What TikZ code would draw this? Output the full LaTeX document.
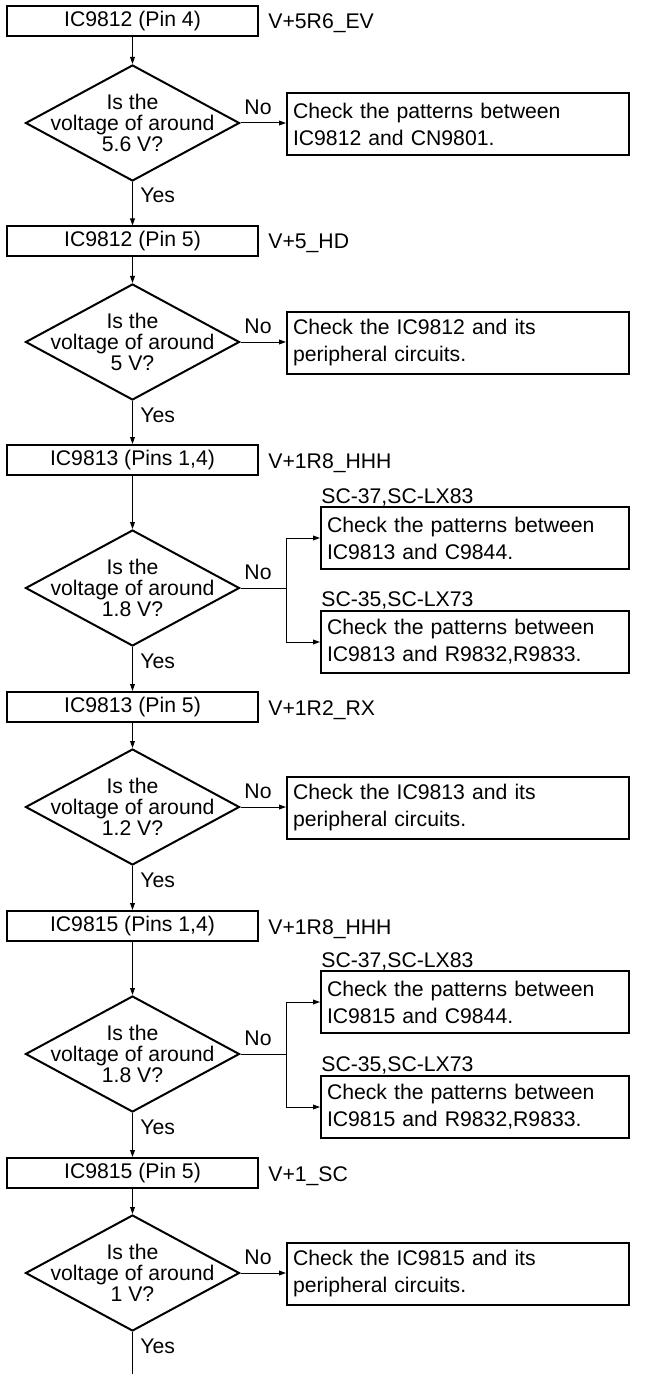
\documentclass[tikz,border=0pt]{standalone}
\usepackage{fontspec}
\setmainfont{Liberation Sans}
\usetikzlibrary{arrows.meta,shapes.geometric}

\begin{document}
\begin{tikzpicture}[x=0.5pt,y=-0.5pt,
  font=\fontsize{10.6}{13.5}\selectfont,
  stage/.style={draw,line width=1pt,minimum width=125.5pt,minimum height=15pt,inner sep=0pt},
  ask/.style={diamond,draw,line width=1pt,minimum width=107pt,minimum height=58pt,inner sep=0pt},
  askline/.style={align=center,inner sep=0pt,font=\fontsize{10.6}{10.5}\selectfont},
  fix/.style={draw,line width=1pt,align=left,text width=165pt,inner sep=3pt,minimum height=31pt},
  fixsplit/.style={fix,text width=148pt},
  note/.style={anchor=base west,inner sep=0pt},
  flow/.style={line width=0.5pt,-{Triangle[length=3.5pt,width=2.4pt]}}]
            \useasboundingbox (0,0) rectangle (662,1374);

            % IC9812 pin 4
            \node[stage] (b1) at (132.5,21.5) {IC9812 (Pin 4)};
            \node[note] (v1) at (268,29) {V+5R6\_EV};
            \node[ask,label={[askline]center:{Is the\\voltage of around\\5.6 V?}}] (d1) at (132.5,123) {};
            \node[fix] (r1) at (458,124) {Check the patterns between\\IC9812 and CN9801.};
            \node (n1) at (258,107) {No};
            \node[note] (y1) at (140,203) {Yes};

            % IC9812 pin 5
            \node[stage] (b2) at (132.5,241.5) {IC9812 (Pin 5)};
            \node[note] (v2) at (268,249) {V+5\_HD};
            \node[ask,label={[askline]center:{Is the\\voltage of around\\5 V?}}] (d2) at (132.5,342) {};
            \node[fix] (r2) at (458,343) {Check the IC9812 and its\\peripheral circuits.};
            \node (n2) at (258,326) {No};
            \node[note] (y2) at (140,422) {Yes};

            % IC9813 pins 1,4
            \node[stage] (b3) at (132.5,460) {IC9813 (Pins 1,4)};
            \node[note] (v3) at (268,468) {V+1R8\_HHH};
            \node[ask,label={[askline]center:{Is the\\voltage of around\\1.8 V?}}] (d3) at (132.5,588) {};
            \node[fixsplit] (r3a) at (475,538) {Check the patterns between\\IC9813 and C9844.};
            \node[fixsplit] (r3b) at (475,642) {Check the patterns between\\IC9813 and R9832,R9833.};
            \node[note] (s3a) at (321,503) {SC-37,SC-LX83};
            \node[note] (s3b) at (321,606) {SC-35,SC-LX73};
            \coordinate (k3) at (286,588);
            \node (n3) at (258,572) {No};
            \node[note] (y3) at (140,668) {Yes};

            % IC9813 pin 5
            \node[stage] (b4) at (132.5,707) {IC9813 (Pin 5)};
            \node[note] (v4) at (268,715) {V+1R2\_RX};
            \node[ask,label={[askline]center:{Is the\\voltage of around\\1.2 V?}}] (d4) at (132.5,807) {};
            \node[fix] (r4) at (458,808) {Check the IC9813 and its\\peripheral circuits.};
            \node (n4) at (258,791) {No};
            \node[note] (y4) at (140,887) {Yes};

            % IC9815 pins 1,4
            \node[stage] (b5) at (132.5,926) {IC9815 (Pins 1,4)};
            \node[note] (v5) at (268,934) {V+1R8\_HHH};
            \node[ask,label={[askline]center:{Is the\\voltage of around\\1.8 V?}}] (d5) at (132.5,1054) {};
            \node[fixsplit] (r5a) at (475,1002) {Check the patterns between\\IC9815 and C9844.};
            \node[fixsplit] (r5b) at (475,1107) {Check the patterns between\\IC9815 and R9832,R9833.};
            \node[note] (s5a) at (321,967) {SC-37,SC-LX83};
            \node[note] (s5b) at (321,1071) {SC-35,SC-LX73};
            \coordinate (k5) at (286,1054);
            \node (n5) at (258,1038) {No};
            \node[note] (y5) at (140,1134) {Yes};

            % IC9815 pin 5
            \node[stage] (b6) at (132.5,1173) {IC9815 (Pin 5)};
            \node[note] (v6) at (268,1181) {V+1\_SC};
            \node[ask,label={[askline]center:{Is the\\voltage of around\\1 V?}}] (d6) at (132.5,1273) {};
            \node[fix] (r6) at (458,1274) {Check the IC9815 and its\\peripheral circuits.};
            \node (n6) at (258,1257) {No};
            \node[note] (y6) at (140,1353) {Yes};
            \coordinate (tail) at (132.5,1374);

            % main line
            \draw[flow] (b1) -- (d1);
            \draw[flow] (d1) -- (b2);
            \draw[flow] (b2) -- (d2);
            \draw[flow] (d2) -- (b3);
            \draw[flow] (b3) -- (d3);
            \draw[flow] (d3) -- (b4);
            \draw[flow] (b4) -- (d4);
            \draw[flow] (d4) -- (b5);
            \draw[flow] (b5) -- (d5);
            \draw[flow] (d5) -- (b6);
            \draw[flow] (b6) -- (d6);
            \draw[line width=0.5pt] (d6) -- (tail);

            % No branches
            \draw[flow] (d1.east) -- (d1.east -| r1.west);
            \draw[flow] (d2.east) -- (d2.east -| r2.west);
            \draw[line width=0.5pt] (d3.east) -- (k3);
            \draw[flow] (k3) |- (r3a.west);
            \draw[flow] (k3) |- (r3b.west);
            \draw[flow] (d4.east) -- (d4.east -| r4.west);
            \draw[line width=0.5pt] (d5.east) -- (k5);
            \draw[flow] (k5) |- (r5a.west);
            \draw[flow] (k5) |- (r5b.west);
            \draw[flow] (d6.east) -- (d6.east -| r6.west);
        \end{tikzpicture}
\end{document}
